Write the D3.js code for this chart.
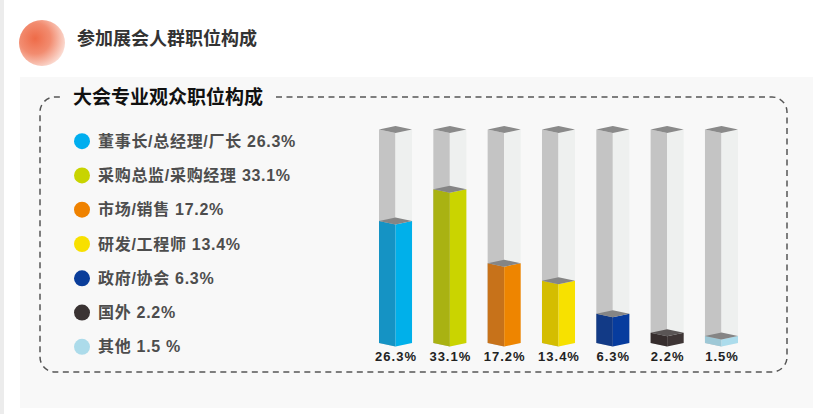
<!DOCTYPE html>
<html><head><meta charset="utf-8">
<script src="https://cdn.jsdelivr.net/npm/d3@7"></script>
<style>html,body{margin:0;padding:0;background:#fff;}svg{display:block;}</style>
</head><body>
<svg id="c" width="824" height="414"></svg>
<script>
const pageTitle = "参加展会人群职位构成";
const chartTitle = "大会专业观众职位构成";
const categories = ["董事长/总经理/厂长","采购总监/采购经理","市场/销售","研发/工程师","政府/协会","国外","其他"];
const values = [26.3, 33.1, 17.2, 13.4, 6.3, 2.2, 1.5];
const legendValueLabels = ["26.3%","33.1%","17.2%","13.4%","6.3%","2.2%","1.5 %"];
const barLabels = ["26.3%","33.1%","17.2%","13.4%","6.3%","2.2%","1.5%"];
const scaleMax = 46;
const dotColors = ["#00aeef","#c8d400","#ef8200","#f8e000","#0a3d9a","#3a3333","#acdbea"];
const leftFaceColors = ["#1593c4","#a9b212","#c7721a","#d4bd00","#123a86","#362d2d","#9ec8d6"];
const rightFaceColors = ["#00b0ea","#cad400","#ee8500","#f7e100","#073c9e","#3e3535","#acdcec"];

const svg = d3.select("#c");
const font = "'Liberation Sans','Noto Sans CJK SC',sans-serif";

// background
svg.append("rect").attr("x",0).attr("y",0).attr("width",824).attr("height",414).attr("fill","#fff");
svg.append("rect").attr("x",0).attr("y",0).attr("width",4).attr("height",414).attr("fill","#ececec");
svg.append("rect").attr("x",20).attr("y",77).attr("width",793).attr("height",331).attr("fill","#f8f8f8");

// header circle
const defs = svg.append("defs");
const rg = defs.append("radialGradient").attr("id","hg").attr("cx","0.35").attr("cy","0.4").attr("r","0.75");
rg.append("stop").attr("offset","0").attr("stop-color","#ee6b48");
rg.append("stop").attr("offset","0.45").attr("stop-color","#f28c70");
rg.append("stop").attr("offset","1").attr("stop-color","#fdeee9");
svg.append("circle").attr("cx",42).attr("cy",43).attr("r",23).attr("fill","url(#hg)");
svg.append("text").attr("x",77).attr("y",39).attr("dominant-baseline","central")
  .attr("font-family",font).attr("font-weight","bold").attr("font-size",18).attr("fill","#333")
  .text(pageTitle);

// dashed box
const box = "M276,97 H772 A15,15 0 0 1 787,112 V357 A15,15 0 0 1 772,372 H55 A15,15 0 0 1 40,357 V112 A15,15 0 0 1 55,97 H60";
svg.append("path").attr("d",box).attr("fill","none").attr("stroke","#555").attr("stroke-width",1.5)
  .attr("stroke-dasharray","6,4.5");
svg.append("text").attr("x",73).attr("y",97).attr("dominant-baseline","central")
  .attr("font-family",font).attr("font-weight","bold").attr("font-size",19).attr("fill","#111")
  .text(chartTitle);

// legend
const ly = d3.scaleBand().domain(categories).range([124,364]).paddingInner(0);
const lg = svg.append("g");
categories.forEach((c,i)=>{
  const cy = ly(c)+ly.bandwidth()/2;
  lg.append("circle").attr("cx",82).attr("cy",cy).attr("r",8).attr("fill",dotColors[i]);
  lg.append("text").attr("x",98).attr("y",cy).attr("dominant-baseline","central")
    .attr("font-family",font).attr("font-weight","bold").attr("font-size",16).attr("fill","#4d4d4d")
    .attr("letter-spacing",0.7)
    .text(c+" "+legendValueLabels[i]);
});

// bars
const x = d3.scaleBand().domain(categories).range([379,738]).paddingInner(0.392).paddingOuter(0);
const y = d3.scaleLinear().domain([0,scaleMax]).range([343,129.5]);
const d = 3.5;
function column(g, x0, w, yTop, yBot, lc, rc, cap){
  const xm = x0 + w/2, x1 = x0 + w;
  g.append("path").attr("d",`M${x0},${yTop} L${xm},${yTop+d} L${xm},${yBot+d} L${x0},${yBot} Z`).attr("fill",lc);
  g.append("path").attr("d",`M${xm},${yTop+d} L${x1},${yTop} L${x1},${yBot} L${xm},${yBot+d} Z`).attr("fill",rc);
  if(cap) g.append("path").attr("d",`M${x0},${yTop} L${xm},${yTop-d} L${x1},${yTop} L${xm},${yTop+d} Z`).attr("fill",cap);
}
const bg = svg.append("g");
categories.forEach((c,i)=>{
  const x0 = x(c), w = x.bandwidth();
  column(bg, x0, w, y(scaleMax), y(0), "#c4c4c4", "#eef0ef", "#8a8a8a");
  column(bg, x0, w, y(values[i]), y(0), leftFaceColors[i], rightFaceColors[i], i===5 ? "#5a5555" : "#858585");
  bg.append("text").attr("x",x0+w/2+0.5).attr("y",361).attr("text-anchor","middle")
    .attr("font-family",font).attr("font-weight","bold").attr("font-size",13).attr("fill","#222")
    .attr("letter-spacing",1)
    .text(barLabels[i]);
});
</script>
</body></html>
